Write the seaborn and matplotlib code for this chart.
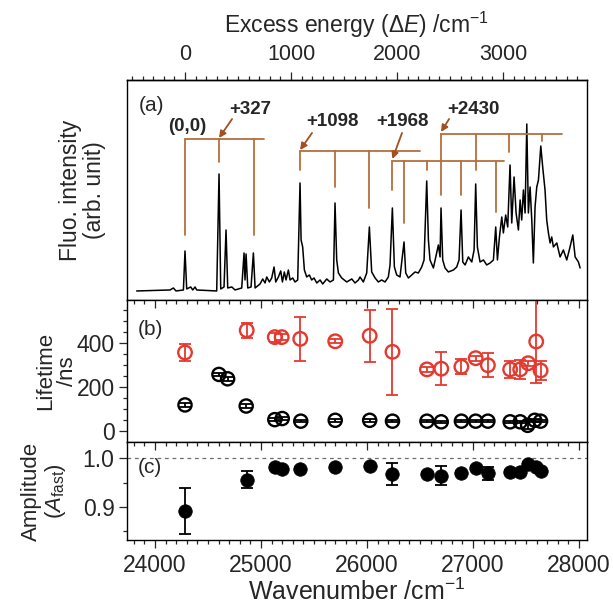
import matplotlib
matplotlib.use('Agg')
from matplotlib import pyplot as plt
from matplotlib.ticker import MultipleLocator, FixedLocator, NullFormatter, FormatStrFormatter
import seaborn as sns

# (0,0) band origin for the excess energy axis
E0 = 24283

# LIF spectrum (cm-1, arb. unit)
spec_wn = [23827, 24142, 24173, 24198, 24268, 24283, 24299, 24337, 24356, 24378, 24393, 24582, 24604, 24620,
           24651, 24670, 24686, 24724, 24755, 24818, 24840, 24849, 24859, 24875, 24906, 24928, 24944, 24991,
           25016, 25038, 25054, 25079, 25101, 25123, 25139, 25164, 25186, 25202, 25220, 25236, 25258, 25274,
           25299, 25321, 25346, 25368, 25378, 25393, 25409, 25431, 25456, 25478, 25500, 25526, 25557, 25582,
           25620, 25651, 25683, 25698, 25714, 25730, 25761, 25809, 25856, 25887, 25919,
           25934, 25965, 25997, 26022, 26044, 26076, 26107, 26138, 26170, 26201, 26217, 26239, 26258, 26280,
           26311, 26349, 26365, 26390, 26421, 26453, 26484, 26516, 26538, 26563, 26579, 26594, 26626, 26657,
           26673, 26689, 26698, 26714, 26736, 26767, 26815, 26846, 26868, 26887, 26903, 26925, 26956, 26988,
           27010, 27025, 27041, 27066, 27098, 27129, 27161, 27192, 27214, 27230, 27249, 27271, 27286, 27308,
           27327, 27349, 27365, 27387, 27406, 27428, 27444, 27459, 27475, 27491, 27507, 27522, 27538, 27554,
           27569, 27585, 27601, 27617, 27639, 27657, 27679, 27695, 27711, 27727, 27742, 27758, 27790, 27821,
           27852, 27884, 27915, 27941, 27963, 27994, 28010]
spec_int = [9, 10, 12, 9, 10, 49, 11, 13, 10, 13, 10, 9, 126, 11,
            13, 70, 12, 13, 10, 12, 47, 20, 46, 12, 13, 47, 12, 16,
            21, 17, 23, 18, 22, 33, 18, 23, 29, 18, 28, 20, 30, 20,
            22, 18, 20, 117, 60, 53, 30, 23, 25, 20, 22, 17, 20, 16,
            21, 18, 20, 97, 40, 27, 22, 18, 21, 17, 20,
            23, 18, 27, 73, 28, 22, 18, 20, 18, 23, 35, 92, 33, 25,
            23, 58, 27, 22, 25, 28, 27, 33, 40, 119, 60, 40, 32, 47,
            55, 43, 92, 40, 32, 28, 30, 33, 40, 90, 38, 35, 43, 38,
            50, 116, 53, 38, 40, 35, 37, 40, 73, 40, 63, 83, 67, 85,
            73, 135, 77, 123, 87, 70, 100, 80, 110, 87, 176, 87, 113, 80,
            37, 93, 113, 120, 154, 133, 110, 80, 67, 57, 63, 53, 57, 43,
            50, 40, 53, 65, 43, 38, 32]

# vibronic progressions: label, label position, arrow tail/head, bar height, band positions, band tops, bar end
prog_labels = ['+327', '+1098', '+1968', '+2430']
prog_text_xy = [(24896, 190), (25670, 178), (26330, 178), (26999, 190)]
prog_arrow_from = [(24727, 181), (25481, 167), (26330, 167), (26774, 181)]
prog_arrow_to = [(24604, 162), (25368, 150), (26239, 141), (26698, 168)]
prog_level = [161, 149, 139, 166]
prog_bands = [[24283, 24604, 24934], [25368, 25698, 26022], [26239, 26349, 26563, 26887, 27214],
              [26698, 27025, 27342, 27648]]
prog_tops = [[65, 138, 65], [130, 113, 92], [110, 77, 130, 105, 88], [105, 130, 148, 159]]
prog_end = [25028, 26500, 27293, 27837]

# lifetimes (ns)
wn_fast = [24283, 24603, 24685, 24860, 25130, 25200, 25375, 25700, 26025, 26240, 26565, 26700, 26890, 27025,
           27140, 27350, 27445, 27515, 27582, 27637]
tau_fast = [119, 258, 238, 114, 52, 57, 45, 49, 49, 45, 45, 42, 45, 45, 45, 42, 42, 26, 49, 45]
tau_fast_err = [8, 8, 8, 8, 8, 8, 6, 6, 6, 6, 6, 6, 6, 6, 6, 6, 6, 18, 6, 6]

wn_slow = [24283, 24865, 25130, 25195, 25370, 25700, 26025, 26240, 26565, 26700, 26890, 27025, 27140, 27350,
           27445, 27520, 27596, 27637]
tau_slow = [358, 459, 428, 428, 420, 409, 434, 361, 281, 284, 293, 332, 300, 281, 281, 309, 408, 276]
tau_slow_err = [40, 35, 20, 12, 100, 10, 118, 195, 10, 75, 35, 12, 56, 40, 42, 12, 187, 44]

# fast component amplitude
amp = [0.891, 0.956, 0.982, 0.978, 0.978, 0.982, 0.985, 0.968, 0.967, 0.964, 0.969, 0.980, 0.969, 0.971,
       0.971, 0.988, 0.982, 0.974]
amp_err = [0.048, 0.017, 0.005, 0.004, 0.004, 0.004, 0.004, 0.023, 0.004, 0.020, 0.004, 0.004, 0.013, 0.004,
           0.004, 0.004, 0.004, 0.004]

RED = '#e5392f'
BROWN = '#b46e3e'
ARROW = '#a24f22'

sns.set_theme(style='ticks')
plt.rcParams['font.family'] = ['Liberation Sans', 'DejaVu Sans']
plt.rcParams['mathtext.fontset'] = 'custom'
plt.rcParams['mathtext.rm'] = 'Liberation Sans'
plt.rcParams['mathtext.it'] = 'Liberation Sans:italic'
plt.rcParams['axes.linewidth'] = 1.0
plt.rcParams['axes.edgecolor'] = 'black'

TICK = 16.5
YLAB = 16

fig = plt.figure(figsize=(6.13, 6.06), dpi=100)
left, width = 0.2072, 0.7504
ax_a = fig.add_axes([left, 0.5050, width, 0.3630])
ax_b = fig.add_axes([left, 0.2706, width, 0.2343])
ax_c = fig.add_axes([left, 0.1089, width, 0.1617])

xlim = (23736, 28075)
for ax in (ax_a, ax_b, ax_c):
    ax.set_xlim(*xlim)
    for s in ax.spines.values():
        s.set_visible(True)
        s.set_linewidth(1.0)

# ---- (a) spectrum
sns.lineplot(x=spec_wn, y=spec_int, ax=ax_a, color='black', lw=1.1, sort=False, estimator=None)
ax_a.set_ylim(0, 220)
ax_a.set_yticks([])
ax_a.set_xticks([])
for lvl, bands, tops, end in zip(prog_level, prog_bands, prog_tops, prog_end):
    ax_a.plot([bands[0], end], [lvl, lvl], color=BROWN, lw=1.3)
    for b, t in zip(bands, tops):
        ax_a.plot([b, b], [lvl, t], color=BROWN, lw=1.3)
ax_a.text(24302, 173, '(0,0)', ha='center', va='center', fontsize=13.5, fontweight='bold')
for lab, txy, afrom, ato in zip(prog_labels, prog_text_xy, prog_arrow_from, prog_arrow_to):
    ax_a.text(txy[0], txy[1], lab, ha='center', va='center', fontsize=13.5, fontweight='bold')
    ax_a.annotate('', xy=ato, xytext=afrom,
                  arrowprops=dict(arrowstyle='-|>', color=ARROW, lw=1.3, mutation_scale=10, shrinkA=0, shrinkB=0))
ax_a.text(0.054, 0.886, '(a)', transform=ax_a.transAxes, ha='center', va='center', fontsize=15)
ax_a.set_ylabel('Fluo. intensity\n(arb. unit)', fontsize=YLAB + 0.5, linespacing=1.05)
ax_a.yaxis.set_label_coords(-0.045, 0.5)

top = ax_a.secondary_xaxis('top', functions=(lambda w: w - E0, lambda e: e + E0))
top.xaxis.set_major_locator(FixedLocator([0, 1000, 2000, 3000]))
top.xaxis.set_minor_locator(FixedLocator(list(range(-500, 3800, 100))))
top.tick_params(which='major', direction='out', length=6, width=0.9, labelsize=15.5, pad=5)
top.tick_params(which='minor', direction='out', length=3, width=0.9)
top.set_xlabel(r'Excess energy ($\Delta E$) /cm$^{-1}$', fontsize=16.5, labelpad=8)

# ---- (b) lifetimes
ax_b.errorbar(wn_slow, tau_slow, yerr=tau_slow_err, fmt='none', ecolor=RED, elinewidth=1.3, capsize=4,
              capthick=1.3, zorder=2)
ax_b.errorbar(wn_fast, tau_fast, yerr=tau_fast_err, fmt='none', ecolor='black', elinewidth=1.3, capsize=4,
              capthick=1.3, zorder=2)
sns.scatterplot(x=wn_slow, y=tau_slow, ax=ax_b, marker='o', s=95, facecolor='none', edgecolor=RED,
                linewidth=1.7, zorder=3)
sns.scatterplot(x=wn_fast, y=tau_fast, ax=ax_b, marker='o', s=90, facecolor='none', edgecolor='black',
                linewidth=1.7, zorder=3)
ax_b.set_ylim(-50, 597)
ax_b.yaxis.set_major_locator(FixedLocator([0, 200, 400]))
ax_b.yaxis.set_minor_locator(FixedLocator(list(range(0, 600, 50))))
ax_b.set_ylabel('Lifetime\n/ns', fontsize=YLAB, linespacing=1.05)
ax_b.yaxis.set_label_coords(-0.107, 0.5)
ax_b.text(0.05, 0.79, '(b)', transform=ax_b.transAxes, ha='center', va='center', fontsize=15)

# ---- (c) amplitude
ax_c.axhline(1.0, color='#6d6d6d', lw=0.9, ls=(0, (3, 3)), zorder=1)
ax_c.errorbar(wn_slow, amp, yerr=amp_err, fmt='none', ecolor='black', elinewidth=1.3, capsize=4,
              capthick=1.3, zorder=2)
sns.scatterplot(x=wn_slow, y=amp, ax=ax_c, marker='o', s=95, color='black', edgecolor='black',
                linewidth=0.5, zorder=3)
ax_c.set_ylim(0.831, 1.034)
ax_c.yaxis.set_major_locator(FixedLocator([0.9, 1.0]))
ax_c.yaxis.set_minor_locator(FixedLocator([0.85, 0.95]))
ax_c.yaxis.set_major_formatter(FormatStrFormatter('%.1f'))
ax_c.set_ylabel('Amplitude\n' + r'($A_{\mathrm{fast}}$)', fontsize=YLAB, linespacing=1.05)
ax_c.yaxis.set_label_coords(-0.128, 0.5)
ax_c.text(0.05, 0.74, '(c)', transform=ax_c.transAxes, ha='center', va='center', fontsize=15)
ax_c.set_xlabel('Wavenumber /cm$^{-1}$', fontsize=18, labelpad=1)

for ax in (ax_b, ax_c):
    ax.tick_params(axis='y', which='major', direction='out', length=6, width=0.9, labelsize=TICK, pad=3)
    ax.tick_params(axis='y', which='minor', direction='out', length=3, width=0.9)
    ax.xaxis.set_major_locator(MultipleLocator(1000))
    ax.xaxis.set_minor_locator(MultipleLocator(100))

ax_b.tick_params(axis='x', which='both', top=True, bottom=False, direction='in', labelbottom=False,
                 width=0.9)
ax_b.tick_params(axis='x', which='major', length=6)
ax_b.tick_params(axis='x', which='minor', length=3)
ax_c.tick_params(axis='x', which='both', top=False, bottom=True, direction='out', width=0.9)
ax_c.tick_params(axis='x', which='major', length=6, labelsize=TICK, pad=4)
ax_c.tick_params(axis='x', which='minor', length=3)
# inward ticks on the top edge of (c)
ax_c_top = ax_c.secondary_xaxis('top')
ax_c_top.xaxis.set_major_locator(MultipleLocator(1000))
ax_c_top.xaxis.set_minor_locator(MultipleLocator(100))
ax_c_top.xaxis.set_major_formatter(NullFormatter())
ax_c_top.tick_params(which='both', direction='in', width=0.9)
ax_c_top.tick_params(which='major', length=6)
ax_c_top.tick_params(which='minor', length=3)
ax_c_top.spines['top'].set_visible(False)

fig.savefig('out.png', dpi=100)
